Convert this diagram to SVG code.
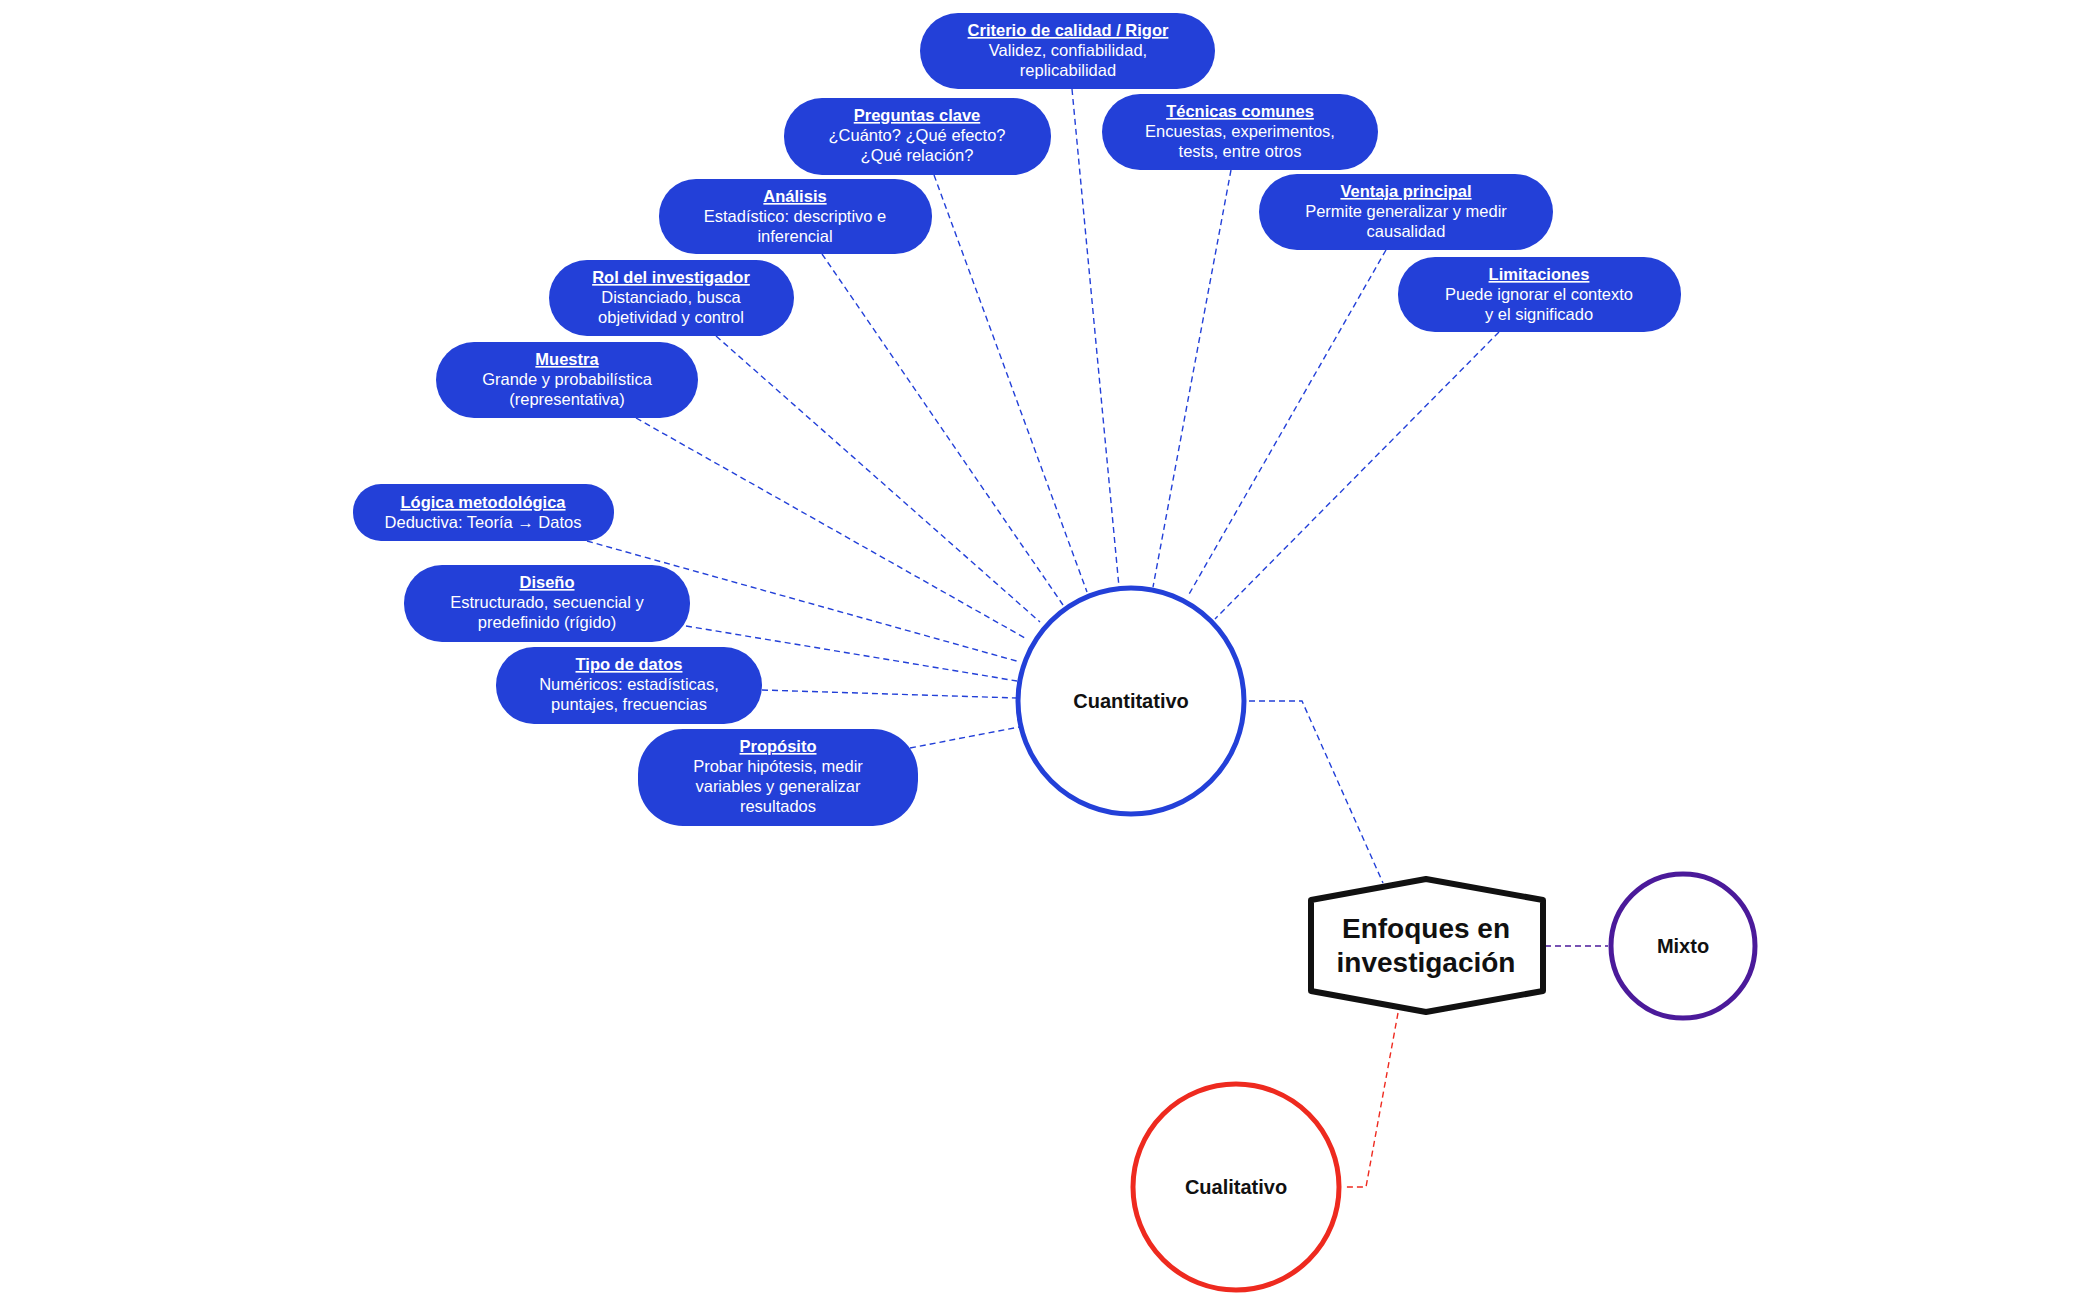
<svg xmlns="http://www.w3.org/2000/svg" width="2099" height="1300" viewBox="0 0 2099 1300">
<style>
.p{fill:#2340d8}
.t{font-family:"Liberation Sans",Arial,sans-serif;font-size:16.5px;fill:#fff;text-anchor:middle}
.h{font-weight:bold;text-decoration:underline}
.c{fill:none;stroke-width:1.4;stroke-dasharray:6 4}
.n{font-family:"Liberation Sans",Arial,sans-serif;font-weight:bold;fill:#111;text-anchor:middle}
</style>
<rect width="2099" height="1300" fill="#fff"/>
<g id="connectors">
<g class="c" stroke="#2340d8">
<line x1="1072" y1="89" x2="1119" y2="587"/>
<line x1="934" y1="175" x2="1087" y2="592"/>
<line x1="1231" y1="170" x2="1153" y2="587"/>
<line x1="822" y1="254" x2="1063" y2="605"/>
<line x1="1386" y1="250" x2="1188" y2="596"/>
<line x1="716" y1="336" x2="1040" y2="622"/>
<line x1="1499" y1="332" x2="1215" y2="619"/>
<line x1="636" y1="418" x2="1025" y2="638"/>
<line x1="587" y1="541" x2="1020" y2="662"/>
<line x1="686" y1="626" x2="1017" y2="681"/>
<line x1="762" y1="690" x2="1017" y2="698"/>
<line x1="910" y1="748" x2="1019" y2="727"/>
<polyline points="1249,701 1302,701 1383,883"/>
</g>
<line class="c" stroke="#4b1a9a" x1="1545" y1="946" x2="1608" y2="946"/>
<polyline class="c" stroke="#ee2a1f" points="1398,1013 1366,1187 1343,1187"/>
</g>
<g id="criterio"><rect class="p" x="920" y="13" width="295" height="76" rx="38"/><text class="t" y="36"><tspan class="h" x="1068">Criterio de calidad / Rigor</tspan><tspan x="1068" dy="20">Validez, confiabilidad,</tspan><tspan x="1068" dy="20">replicabilidad</tspan></text></g>
<g id="preguntas"><rect class="p" x="784" y="98" width="267" height="77" rx="38"/><text class="t" y="121"><tspan class="h" x="917">Preguntas clave</tspan><tspan x="917" dy="20">¿Cuánto? ¿Qué efecto?</tspan><tspan x="917" dy="20">¿Qué relación?</tspan></text></g>
<g id="tecnicas"><rect class="p" x="1102" y="94" width="276" height="76" rx="38"/><text class="t" y="117"><tspan class="h" x="1240">Técnicas comunes</tspan><tspan x="1240" dy="20">Encuestas, experimentos,</tspan><tspan x="1240" dy="20">tests, entre otros</tspan></text></g>
<g id="analisis"><rect class="p" x="659" y="179" width="273" height="75" rx="37"/><text class="t" y="202"><tspan class="h" x="795">Análisis</tspan><tspan x="795" dy="20">Estadístico: descriptivo e</tspan><tspan x="795" dy="20">inferencial</tspan></text></g>
<g id="ventaja"><rect class="p" x="1259" y="174" width="294" height="76" rx="38"/><text class="t" y="197"><tspan class="h" x="1406">Ventaja principal</tspan><tspan x="1406" dy="20">Permite generalizar y medir</tspan><tspan x="1406" dy="20">causalidad</tspan></text></g>
<g id="rol"><rect class="p" x="549" y="260" width="245" height="76" rx="38"/><text class="t" y="283"><tspan class="h" x="671">Rol del investigador</tspan><tspan x="671" dy="20">Distanciado, busca</tspan><tspan x="671" dy="20">objetividad y control</tspan></text></g>
<g id="limitaciones"><rect class="p" x="1398" y="257" width="283" height="75" rx="37"/><text class="t" y="280"><tspan class="h" x="1539">Limitaciones</tspan><tspan x="1539" dy="20">Puede ignorar el contexto</tspan><tspan x="1539" dy="20">y el significado</tspan></text></g>
<g id="muestra"><rect class="p" x="436" y="342" width="262" height="76" rx="38"/><text class="t" y="365"><tspan class="h" x="567">Muestra</tspan><tspan x="567" dy="20">Grande y probabilística</tspan><tspan x="567" dy="20">(representativa)</tspan></text></g>
<g id="logica"><rect class="p" x="353" y="484" width="261" height="57" rx="28"/><text class="t" y="508"><tspan class="h" x="483">Lógica metodológica</tspan><tspan x="483" dy="20">Deductiva: Teoría → Datos</tspan></text></g>
<g id="diseno"><rect class="p" x="404" y="565" width="286" height="77" rx="38"/><text class="t" y="588"><tspan class="h" x="547">Diseño</tspan><tspan x="547" dy="20">Estructurado, secuencial y</tspan><tspan x="547" dy="20">predefinido (rígido)</tspan></text></g>
<g id="tipo"><rect class="p" x="496" y="647" width="266" height="77" rx="38"/><text class="t" y="670"><tspan class="h" x="629">Tipo de datos</tspan><tspan x="629" dy="20">Numéricos: estadísticas,</tspan><tspan x="629" dy="20">puntajes, frecuencias</tspan></text></g>
<g id="proposito"><rect class="p" x="638" y="729" width="280" height="97" rx="45"/><text class="t" y="752"><tspan class="h" x="778">Propósito</tspan><tspan x="778" dy="20">Probar hipótesis, medir</tspan><tspan x="778" dy="20">variables y generalizar</tspan><tspan x="778" dy="20">resultados</tspan></text></g>
<g id="cuantitativo"><circle cx="1131" cy="701" r="113" fill="#fff" stroke="#2340d8" stroke-width="5"/><text class="n" x="1131" y="708" font-size="20">Cuantitativo</text></g>
<g id="enfoques"><polygon points="1426,879 1311,900 1311,991 1426,1012 1543,991 1543,900" fill="#fff" stroke="#111" stroke-width="6" stroke-linejoin="round"/><text class="n" font-size="28"><tspan x="1426" y="938">Enfoques en</tspan><tspan x="1426" y="972">investigación</tspan></text></g>
<g id="mixto"><circle cx="1683" cy="946" r="72" fill="#fff" stroke="#4b1a9a" stroke-width="5"/><text class="n" x="1683" y="953" font-size="20">Mixto</text></g>
<g id="cualitativo"><circle cx="1236" cy="1187" r="103" fill="#fff" stroke="#ee2a1f" stroke-width="5"/><text class="n" x="1236" y="1194" font-size="20">Cualitativo</text></g>
</svg>
